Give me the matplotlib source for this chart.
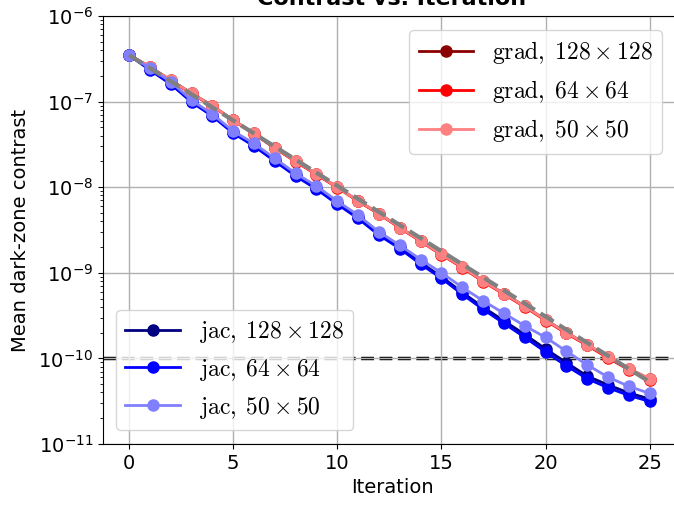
# -*- coding: utf-8 -*-
import matplotlib
matplotlib.use("Agg")
import matplotlib.pyplot as plt

plt.rcParams['mathtext.fontset'] = 'cm'

iterations = list(range(26))

grad_128 = [3.50e-7, 2.55e-7, 1.78e-7, 1.25e-7, 8.93e-8, 6.08e-8, 4.25e-8, 2.88e-8, 2.01e-8, 1.42e-8,
            1.00e-8, 6.92e-9, 4.92e-9, 3.38e-9, 2.36e-9, 1.64e-9, 1.17e-9, 8.02e-10, 5.71e-10, 4.06e-10,
            2.82e-10, 2.00e-10, 1.45e-10, 1.04e-10, 7.55e-11, 5.75e-11]
grad_64 = [3.50e-7, 2.53e-7, 1.76e-7, 1.24e-7, 8.85e-8, 6.02e-8, 4.20e-8, 2.85e-8, 1.99e-8, 1.40e-8,
           9.90e-9, 6.85e-9, 4.86e-9, 3.34e-9, 2.33e-9, 1.62e-9, 1.15e-9, 7.90e-10, 5.62e-10, 3.99e-10,
           2.77e-10, 1.96e-10, 1.42e-10, 1.01e-10, 7.35e-11, 5.60e-11]
grad_50 = [3.50e-7, 2.55e-7, 1.78e-7, 1.25e-7, 8.93e-8, 6.08e-8, 4.25e-8, 2.88e-8, 2.01e-8, 1.42e-8,
           1.00e-8, 6.92e-9, 4.92e-9, 3.38e-9, 2.36e-9, 1.64e-9, 1.17e-9, 8.02e-10, 5.71e-10, 4.06e-10,
           2.82e-10, 2.00e-10, 1.45e-10, 1.04e-10, 7.58e-11, 5.79e-11]

jac_128 = [3.50e-7, 2.38e-7, 1.63e-7, 1.01e-7, 6.90e-8, 4.38e-8, 3.10e-8, 2.07e-8, 1.39e-8, 9.80e-9,
           6.50e-9, 4.45e-9, 2.84e-9, 1.99e-9, 1.31e-9, 9.00e-10, 5.90e-10, 3.95e-10, 2.75e-10, 1.90e-10,
           1.29e-10, 8.90e-11, 6.20e-11, 4.90e-11, 3.95e-11, 3.35e-11]
jac_64 = [3.50e-7, 2.34e-7, 1.60e-7, 9.87e-8, 6.77e-8, 4.28e-8, 3.02e-8, 2.01e-8, 1.35e-8, 9.48e-9,
          6.33e-9, 4.31e-9, 2.75e-9, 1.92e-9, 1.26e-9, 8.63e-10, 5.61e-10, 3.74e-10, 2.57e-10, 1.76e-10,
          1.19e-10, 8.17e-11, 5.79e-11, 4.54e-11, 3.69e-11, 3.14e-11]
jac_50 = [3.50e-7, 2.45e-7, 1.71e-7, 1.04e-7, 7.14e-8, 4.52e-8, 3.24e-8, 2.17e-8, 1.45e-8, 1.03e-8,
          6.86e-9, 4.71e-9, 3.00e-9, 2.10e-9, 1.43e-9, 1.00e-9, 6.76e-10, 4.71e-10, 3.36e-10, 2.40e-10,
          1.76e-10, 1.21e-10, 8.39e-11, 6.04e-11, 4.71e-11, 3.90e-11]

# straight reference line (log scale), end points only
ref_x = [0, 25]
ref_y = [3.5e-7, 5.3e-11]
target = 1e-10


def main():
    fig = plt.figure(figsize=(6.74, 5.07), dpi=100)
    ax = fig.add_axes([103 / 674, 63 / 507, 578 / 674, 428 / 507])

    ax.axhline(target, color='k', ls='--', lw=2.5, zorder=1.5)

    kw = dict(marker='o', markersize=8, lw=2)
    g1, = ax.plot(iterations, grad_128, color='#8b0000', label=r'$\mathrm{grad},\;128\times128$', **kw)
    g2, = ax.plot(iterations, grad_64, color='#ff0000', label=r'$\mathrm{grad},\;64\times64$', **kw)
    g3, = ax.plot(iterations, grad_50, color='#ff8080', label=r'$\mathrm{grad},\;50\times50$', **kw)
    j1, = ax.plot(iterations, jac_128, color='#000080', label=r'$\mathrm{jac},\;128\times128$', **kw)
    j2, = ax.plot(iterations, jac_64, color='#0000ff', label=r'$\mathrm{jac},\;64\times64$', **kw)
    j3, = ax.plot(iterations, jac_50, color='#8080ff', label=r'$\mathrm{jac},\;50\times50$', **kw)
    ax.plot(ref_x, ref_y, color='gray', ls='--', lw=3)

    ax.set_yscale('log')
    ax.set_ylim(1e-11, 1e-6)
    ax.set_xlim(-1.25, 26.5)
    ax.set_xticks([0, 5, 10, 15, 20, 25])
    ax.grid(True, which='major', color='#b0b0b0', lw=1)
    ax.tick_params(labelsize=14)
    ax.set_xlabel('Iteration', fontsize=14)
    ax.set_ylabel('Mean dark-zone contrast', fontsize=14, labelpad=6)
    ax.set_title('Contrast vs. Iteration', fontsize=16, fontweight='bold', pad=8)

    leg1 = ax.legend(handles=[g1, g2, g3], loc='upper right', fontsize=17, handlelength=2.3,
                     bbox_to_anchor=(662 / 674, 477 / 507), bbox_transform=fig.transFigure,
                     borderaxespad=0)
    ax.add_artist(leg1)
    ax.legend(handles=[j1, j2, j3], loc='lower left', fontsize=17, handlelength=2.3,
              bbox_to_anchor=(116 / 674, 77 / 507), bbox_transform=fig.transFigure,
              borderaxespad=0)

    fig.savefig('out.png', dpi=100)


if __name__ == "__main__":
    main()
